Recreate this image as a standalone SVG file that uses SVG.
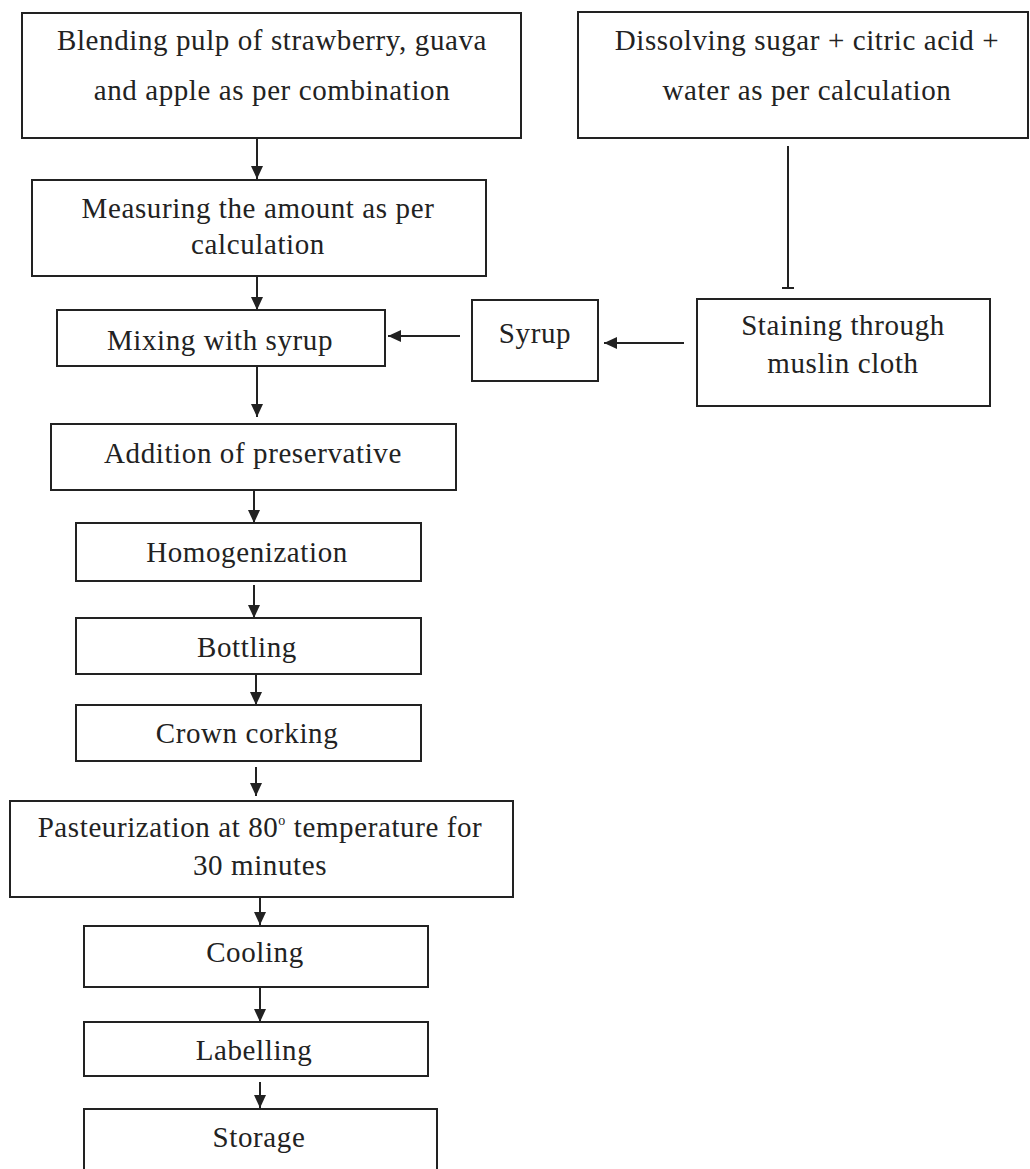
<svg xmlns="http://www.w3.org/2000/svg" width="1030" height="1169" viewBox="0 0 1030 1169">
<style>
.box{fill:#fff;stroke:#222;stroke-width:2}
.t{font-family:"Liberation Serif","Times New Roman",serif;font-size:29px;letter-spacing:0.6px;fill:#222;text-anchor:middle}
.c{stroke:#222;stroke-width:2;fill:none}
.a{marker-end:url(#ah)}
</style>
<defs>
<marker id="ah" markerUnits="userSpaceOnUse" markerWidth="14" markerHeight="14" refX="13" refY="7" orient="auto">
<path d="M0,1 L13,7 L0,13 Z" fill="#222"/>
</marker>
</defs>
<rect width="1030" height="1169" fill="#fff"/>
<g id="connectors">
<line class="c a" x1="257" y1="139" x2="257" y2="179"/>
<line class="c a" x1="257" y1="276" x2="257" y2="310"/>
<line class="c a" x1="257" y1="367" x2="257" y2="417"/>
<line class="c a" x1="254" y1="490" x2="254" y2="523"/>
<line class="c a" x1="254" y1="585" x2="254" y2="618"/>
<line class="c a" x1="256" y1="674" x2="256" y2="705"/>
<line class="c a" x1="256" y1="767" x2="256" y2="796"/>
<line class="c a" x1="260" y1="897" x2="260" y2="925"/>
<line class="c a" x1="260" y1="987" x2="260" y2="1022"/>
<line class="c a" x1="260" y1="1082" x2="260" y2="1108"/>
<line class="c a" x1="460" y1="336" x2="388" y2="336"/>
<line class="c a" x1="684" y1="343" x2="604" y2="343"/>
<line class="c" x1="788" y1="146" x2="788" y2="288"/>
<line class="c" x1="782" y1="288" x2="794" y2="288"/>
</g>
<g id="n_blend">
<rect class="box" x="22" y="13" width="499" height="125"/>
<text class="t" x="272" y="50">Blending pulp of strawberry, guava</text>
<text class="t" x="272" y="100">and apple as per combination</text>
</g>
<g id="n_dissolve">
<rect class="box" x="578" y="12" width="450" height="126"/>
<text class="t" x="807" y="50">Dissolving sugar + citric acid +</text>
<text class="t" x="807" y="100">water as per calculation</text>
</g>
<g id="n_measure">
<rect class="box" x="32" y="180" width="454" height="96"/>
<text class="t" x="258" y="218">Measuring the amount as per</text>
<text class="t" x="258" y="254">calculation</text>
</g>
<g id="n_mixing">
<rect class="box" x="57" y="310" width="328" height="56"/>
<text class="t" x="220" y="350">Mixing with syrup</text>
</g>
<g id="n_syrup">
<rect class="box" x="472" y="300" width="126" height="81"/>
<text class="t" x="535" y="343">Syrup</text>
</g>
<g id="n_staining">
<rect class="box" x="697" y="299" width="293" height="107"/>
<text class="t" x="843" y="335">Staining through</text>
<text class="t" x="843" y="373">muslin cloth</text>
</g>
<g id="n_addition">
<rect class="box" x="51" y="424" width="405" height="66"/>
<text class="t" x="253" y="463">Addition of preservative</text>
</g>
<g id="n_homog">
<rect class="box" x="76" y="523" width="345" height="58"/>
<text class="t" x="247" y="562">Homogenization</text>
</g>
<g id="n_bottling">
<rect class="box" x="76" y="618" width="345" height="56"/>
<text class="t" x="247" y="657">Bottling</text>
</g>
<g id="n_crown">
<rect class="box" x="76" y="705" width="345" height="56"/>
<text class="t" x="247" y="743">Crown corking</text>
</g>
<g id="n_pasteur">
<rect class="box" x="10" y="801" width="503" height="96"/>
<text class="t" x="260" y="837">Pasteurization at 80<tspan font-size="14" dy="-12">o</tspan><tspan dy="12"> temperature for</tspan></text>
<text class="t" x="260" y="875">30 minutes</text>
</g>
<g id="n_cooling">
<rect class="box" x="84" y="926" width="344" height="61"/>
<text class="t" x="255" y="962">Cooling</text>
</g>
<g id="n_labelling">
<rect class="box" x="84" y="1022" width="344" height="54"/>
<text class="t" x="254" y="1060">Labelling</text>
</g>
<g id="n_storage">
<rect class="box" x="84" y="1109" width="353" height="70"/>
<text class="t" x="259" y="1147">Storage</text>
</g>
</svg>
